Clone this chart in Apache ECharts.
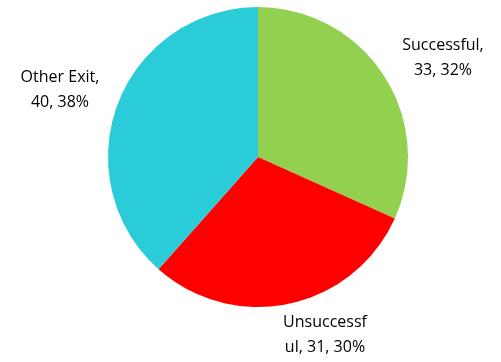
<!DOCTYPE html>
<html>
<head>
<meta charset="utf-8">
<script src="https://cdn.jsdelivr.net/npm/echarts@6/dist/echarts.min.js"></script>
<style>
  html, body { margin: 0; padding: 0; background: #fff; }
  #chart { width: 501px; height: 362px; }
</style>
</head>
<body>
<div id="chart"></div>
<script>
// Exit outcomes
const categories = ['Successful', 'Unsuccessful', 'Other Exit'];
const values = [33, 31, 40];
// Caption name text, wrapped as printed beside each slice
const captionNames = ['Successful,', 'Unsuccessf\nul,', 'Other Exit,'];
const colors = ['#92D050', '#FF0000', '#2ACDD7'];

// Where each caption sits (px, centre of the text block)
const captionPos = [
  { x: 443, y: 58 },
  { x: 325, y: 335 },
  { x: 60, y: 90 }
];

const chart = echarts.init(document.getElementById('chart'), null, { renderer: 'canvas' });

chart.setOption({
  animation: false,
  series: [{
    type: 'pie',
    center: [258, 157],
    radius: 150,
    startAngle: 90,
    clockwise: true,
    percentPrecision: 0,
    data: categories.map((name, i) => ({
      name,
      value: values[i],
      itemStyle: { color: colors[i] }
    })),
    label: {
      show: true,
      position: 'outside',
      color: '#000',
      fontFamily: 'Open Sans, sans-serif',
      fontSize: 16,
      lineHeight: 25,
      align: 'center',
      overflow: 'none',
      formatter: (p) => {
        const nm = captionNames[p.dataIndex];
        // a wrapped name continues on its last line with the figures
        const sep = nm.indexOf('\n') >= 0 ? ' ' : '\n';
        return nm + sep + p.value + ', ' + p.percent + '%';
      }
    },
    labelLine: { show: false },
    labelLayout: (params) => {
      const pos = captionPos[params.dataIndex];
      return { x: pos.x, y: pos.y, align: 'center', verticalAlign: 'middle' };
    }
  }]
});
</script>
</body>
</html>
